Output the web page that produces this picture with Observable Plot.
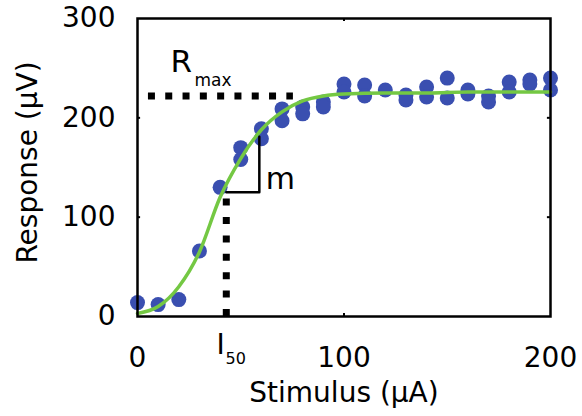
<!DOCTYPE html>
<html><head><meta charset="utf-8">
<script src="https://cdn.jsdelivr.net/npm/d3@7"></script>
<script src="https://cdn.jsdelivr.net/npm/@observablehq/plot@0.6"></script>
<style>body{margin:0;background:#fff;}</style>
</head><body><div id="chart"></div>
<script>
const stimulus = [0,10,20,30,40,50,50,60,60,70,70,80,80,90,90,100,100,110,110,120,130,130,140,140,150,150,160,160,170,170,180,180,190,190,200,200];
const response = [14,12,17,66,130,170,158,189,179,209,197,211,204,216,211,234,226,233,222,228,223,218,231,221,240,220,228,224,222,216,236,226,238,234,240,228];
const fitStimulus = [0,10,20,30,40,50,60,70,80,90,100,120,140,160,180,200];
const fitResponse = [3,10,30,65,120,159,188,206,217,222,224,225,225,226,226,226];
const xTicks = [0,100,200];
const yTicks = [0,100,200,300];
const innerXTicks = [100];
const innerYTicks = [100,200];
const rmax = 222;
const i50 = 43;
const i50Response = 125;
const slopeX = 59;
const slopeTop = 181;

const points = stimulus.map((x, i) => ({x, y: response[i]}));
const fit = fitStimulus.map((x, i) => ({x, y: fitResponse[i]}));
const slope = [{x: i50, y: i50Response}, {x: slopeX, y: i50Response}, {x: slopeX, y: slopeTop}];

const chart = Plot.plot({
  width: 582, height: 416,
  marginLeft: 137, marginRight: 32, marginTop: 18, marginBottom: 100,
  x: {domain: [0, 200], label: null},
  y: {domain: [0, 300], label: null},
  style: {fontFamily: "DejaVu Sans, sans-serif", fontSize: "28px", background: "white", color: "black"},
  marks: [
    Plot.axisX(xTicks, {tickSize: 0, tickPadding: 31, fontSize: 28, label: null}),
    Plot.axisY(yTicks, {tickSize: 0, tickPadding: 22, fontSize: 28, label: null}),
    Plot.ruleX(innerXTicks, {y1: 0, y2: 3, stroke: "black", strokeWidth: 2}),
    Plot.ruleX(innerXTicks, {y1: 297, y2: 300, stroke: "black", strokeWidth: 2}),
    Plot.ruleY(innerYTicks, {x1: 0, x2: 1.5, stroke: "black", strokeWidth: 2}),
    Plot.ruleY(innerYTicks, {x1: 198.5, x2: 200, stroke: "black", strokeWidth: 2}),
    Plot.dot(points, {x: "x", y: "y", r: 7.5, fill: "#3a4fb0", stroke: "none"}),
    Plot.line(fit, {x: "x", y: "y", stroke: "#74c843", strokeWidth: 3.5, curve: "monotone-x"}),
    Plot.ruleY([rmax], {x1: 5.3, x2: 75.5, stroke: "black", strokeWidth: 7, strokeDasharray: "7,10.3"}),
    Plot.ruleX([i50], {y1: 0, y2: i50Response - 1, stroke: "black", strokeWidth: 7, strokeDasharray: "7,11.4"}),
    Plot.line(slope, {x: "x", y: "y", stroke: "black", strokeWidth: 2.5}),
    Plot.text(["R"], {x: 16, y: 256, textAnchor: "start", fontSize: 31}),
    Plot.text(["max"], {x: 27.6, y: 237.5, textAnchor: "start", fontSize: 17}),
    Plot.text(["m"], {x: 69.2, y: 138, fontSize: 30}),
    Plot.text(["I"], {x: 38.3, y: -29, textAnchor: "start", fontSize: 28}),
    Plot.text(["50"], {x: 42.6, y: -42.5, textAnchor: "start", fontSize: 16}),
    Plot.text(["Stimulus (μA)"], {frameAnchor: "bottom", dy: 77, lineAnchor: "middle", textAnchor: "middle", fontSize: 28}),
    Plot.text(["Response (μV)"], {frameAnchor: "left", dx: -109, dy: -5, rotate: -90, textAnchor: "middle", lineAnchor: "middle", fontSize: 28}),
    Plot.frame({stroke: "black", strokeWidth: 2.5})
  ]
});
document.getElementById("chart").appendChild(chart);
</script>
</body></html>
